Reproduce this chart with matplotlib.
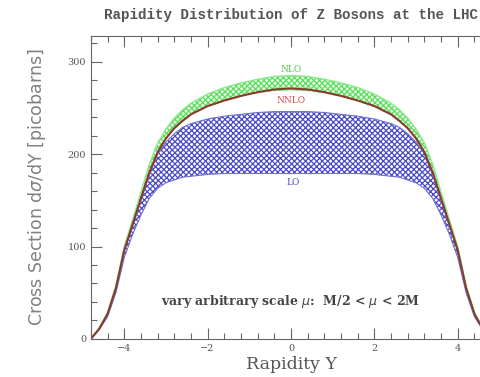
import numpy as np
import matplotlib.pyplot as plt
from matplotlib.ticker import MultipleLocator

# rapidity grid
rapidity = [-4.8, -4.6, -4.4, -4.2, -4.0, -3.8, -3.6, -3.4, -3.2, -3.0, -2.8, -2.6, -2.4, -2.0, -1.6, -1.2, -0.8, -0.4, 0.0,
            0.4, 0.8, 1.2, 1.6, 2.0, 2.4, 2.6, 2.8, 3.0, 3.2, 3.4, 3.6, 3.8, 4.0, 4.2, 4.4, 4.6, 4.8]

nnlo = [0, 11, 27, 55, 96, 124, 152, 180, 202, 217, 228, 236, 243, 252, 258, 263, 267, 270, 271,
        270, 267, 263, 258, 252, 243, 236, 228, 217, 202, 180, 152, 124, 96, 55, 27, 11, 0]
nlo_hi = [0, 12, 29, 58, 100, 129, 159, 189, 212, 227, 239, 248, 255, 265, 272, 277, 281, 284, 285,
          284, 281, 277, 272, 265, 255, 248, 239, 227, 212, 189, 159, 129, 100, 58, 29, 12, 0]
nlo_lo = [0, 11, 27, 54, 95, 123, 151, 179, 201, 216, 227, 235, 242, 251, 257, 262, 266, 268, 269,
          268, 266, 262, 257, 251, 242, 235, 227, 216, 201, 179, 151, 123, 95, 54, 27, 11, 0]
lo_hi = [0, 11, 27, 54, 95, 122, 150, 177, 200, 213, 222, 229, 233, 238, 241, 243, 245, 246, 246,
         246, 245, 243, 241, 238, 233, 229, 222, 213, 200, 177, 150, 122, 95, 54, 27, 11, 0]
lo_lo = [0, 10, 24, 50, 88, 113, 134, 152, 163, 169, 172, 175, 176, 178, 179, 179, 179, 179, 179,
         179, 179, 179, 179, 178, 176, 175, 172, 169, 163, 152, 134, 113, 88, 50, 24, 10, 0]

plt.rcParams['hatch.linewidth'] = 0.9

fig = plt.figure(figsize=(4.81, 3.77), dpi=100)
ax = fig.add_axes([0.189, 0.101, 0.832, 0.804])

ax.fill_between(rapidity, nlo_lo, nlo_hi, facecolor='#eaffea', edgecolor='#5cdc5c', hatch='xxxxxx', linewidth=0)
ax.plot(rapidity, nlo_hi, color='#8ce88c', lw=1.0)
ax.fill_between(rapidity, lo_lo, lo_hi, facecolor='white', edgecolor='#4a4ac8', hatch='xxxxxx', linewidth=0)
ax.plot(rapidity, lo_hi, color='#7070d0', lw=0.8)
ax.plot(rapidity, lo_lo, color='#7070d0', lw=0.8)
ax.plot(rapidity, nnlo, color='#8a3a2a', lw=1.5)

ax.text(0.0, 292, 'NLO', color='#50c850', fontsize=6.5, family='DejaVu Serif', ha='center', va='center')
ax.text(0.0, 258, 'NNLO', color='#d04848', fontsize=6.5, family='DejaVu Serif', ha='center', va='center')
ax.text(0.05, 169, 'LO', color='#4848c0', fontsize=6.5, family='DejaVu Serif', ha='center', va='center')
ax.text(0.0, 41, r'vary arbitrary scale $\mu$:  M/2 < $\mu$ < 2M', color='#444444', fontsize=9,
        family='DejaVu Serif', fontweight='bold', ha='center', va='center')

ax.set_xlim(-4.8, 4.8)
ax.set_ylim(0, 328)
ax.xaxis.set_major_locator(MultipleLocator(2))
ax.xaxis.set_minor_locator(MultipleLocator(0.4))
ax.yaxis.set_major_locator(MultipleLocator(100))
ax.yaxis.set_minor_locator(MultipleLocator(20))
ax.tick_params(which='both', direction='in', top=True, right=True, colors='#666666',
               labelsize=7, labelcolor='#555555')
ax.tick_params(which='major', length=8, width=0.8)
ax.tick_params(which='minor', length=4, width=0.8)
for lab in ax.get_xticklabels() + ax.get_yticklabels():
    lab.set_family('DejaVu Serif')
for s in ax.spines.values():
    s.set_color('#666666')
    s.set_linewidth(0.8)

ax.set_title('Rapidity Distribution of Z Bosons at the LHC', fontsize=10.2, family='Liberation Mono',
             fontweight='bold', color='#555555', pad=12)
ax.set_xlabel('Rapidity Y', fontsize=12.5, family='DejaVu Serif', color='#555555', labelpad=2)
ax.set_ylabel(r'Cross Section d$\sigma$/dY [picobarns]', fontsize=12.5, family='DejaVu Sans',
              color='#808080', labelpad=14)

fig.savefig('out.png', dpi=100)
